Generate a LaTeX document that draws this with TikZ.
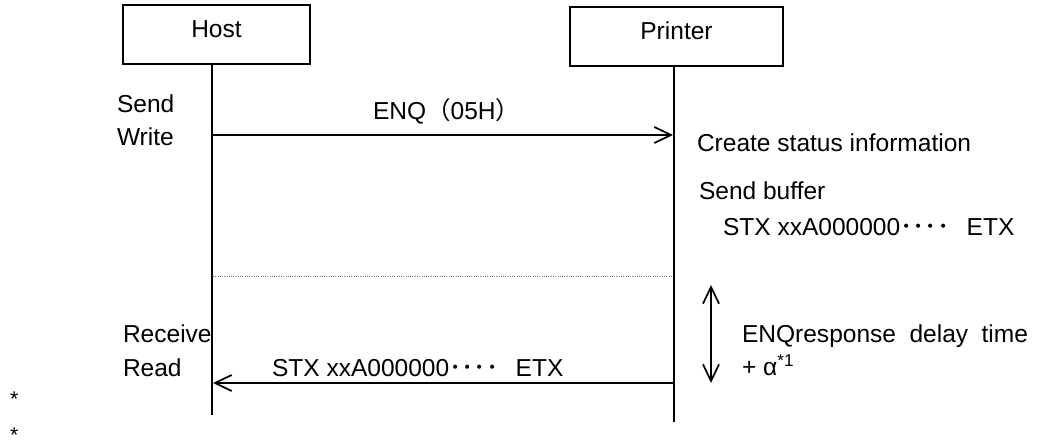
\documentclass[tikz,border=0pt]{standalone}
\usepackage{fontspec}
\setmainfont{Liberation Sans}
\newfontfamily\cjk{Noto Sans CJK SC}
\usetikzlibrary{arrows.meta}
\definecolor{ink}{gray}{0.0}
\definecolor{rule}{gray}{0.45}

\begin{document}
\begin{tikzpicture}[x=0.75pt,y=-0.75pt,
  every node/.style={inner sep=0pt,outer sep=0pt,text=ink},
  tx/.style={font=\fontsize{18.4}{21}\selectfont,anchor=base west},
  actor/.style={draw=ink,line width=1.1pt,font=\fontsize{18.4}{21}\selectfont,
    minimum height=44.25pt,text height=13.2pt,text depth=9.4pt},
  life/.style={draw=ink,line width=1pt},
  msg/.style={draw=ink,line width=1.3pt,-{Straight Barb[length=12.5pt,width=12pt]}},
  span/.style={draw=ink,line width=1.3pt,
    {Straight Barb[length=12.5pt,width=12pt]}-{Straight Barb[length=12.5pt,width=12pt]}}]
\useasboundingbox (0,0) rectangle (1041,443);

% ---- actors and lifelines ------------------------------------------------
\node[actor,minimum width=140.25pt] (host) at (216.5,34.5) {Host};
\node[actor,minimum width=159.75pt] (printer) at (676.5,36.5) {Printer};
\coordinate (hostEnd) at (212,415);
\coordinate (printerEnd) at (674,422);
\draw[life] (host.south -| hostEnd) -- (hostEnd);
\draw[life] (printer.south -| printerEnd) -- (printerEnd);

% ---- host side notes -----------------------------------------------------
\node[tx] (send) at (117,112) {Send};
\node[tx] (write) at (117,145) {Write};
\node[tx] (receive) at (123,342) {Receive};
\node[tx] (read) at (123,376) {Read};
\foreach \y/\n in {400/starA, 436/starB} {
  \node[tx,font=\fontsize{16}{18}\selectfont] (\n) at (10,\y)
    {\raisebox{-5pt}[9pt][0pt]{*}};
}

% ---- ENQ request ---------------------------------------------------------
\coordinate (enqFrom) at (212,135);
\coordinate (enqTo) at (673,135);
\draw[msg] (enqFrom) -- (enqTo);
\node[tx] (enqLbl) at (373,119) {ENQ{\cjk （}05H{\cjk ）}};

% ---- printer side notes --------------------------------------------------
\node[tx] (create) at (697,151) {Create status information};
\node[tx] (buffer) at (699,199) {Send buffer};
\node[tx] (bufData) at (723,235) {STX xxA000000{\cjk ････}\hspace{13pt}ETX};

% ---- waiting and response ------------------------------------------------
\coordinate (waitL) at (213,276);
\coordinate (waitR) at (673,276);
\draw[rule,line width=0.7pt,densely dotted] (waitL) -- (waitR);

\coordinate (delayTop) at (711,285);
\coordinate (delayBot) at (711,383);
\draw[span] (delayTop) -- (delayBot);
\node[tx] (delay) at (742,342) {\makebox[214.5pt][s]{ENQresponse delay time}};
\node[tx] (alpha) at (742,375) {+ α\textsuperscript{*1}};

\coordinate (resFrom) at (674,383);
\coordinate (resTo) at (213,383);
\draw[msg] (resFrom) -- (resTo);
\node[tx] (resLbl) at (272,376) {STX xxA000000{\cjk ････}\hspace{13pt}ETX};
\end{tikzpicture}
\end{document}
